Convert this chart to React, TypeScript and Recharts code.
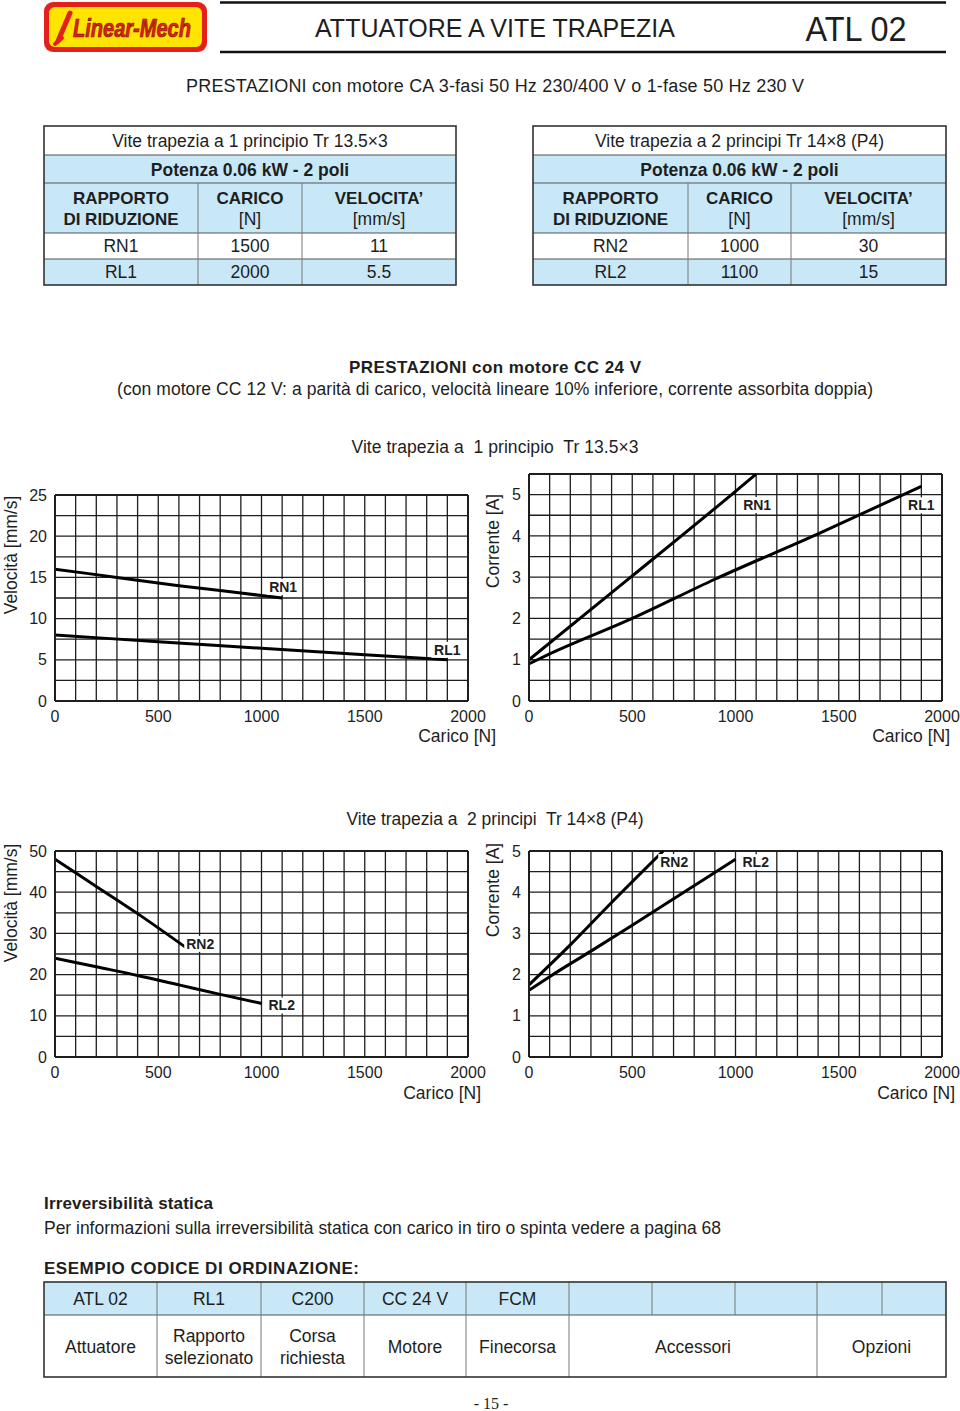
import React from 'react';
import { LineChart, Line, XAxis, YAxis, CartesianGrid, LabelList, ReferenceLine } from 'recharts';

const FONT = '"Liberation Sans", Arial, Helvetica, sans-serif';
const BLUE = '#c8e8f8';
const INK = '#1e1e1e';

// --- tabelle motore CA ---
const table1Title = 'Vite trapezia a 1 principio Tr 13.5×3';
const table2Title = 'Vite trapezia a 2 principi Tr 14×8 (P4)';
const powerLabel = 'Potenza 0.06 kW - 2 poli';
const ratios1 = ['RN1', 'RL1'];
const loads1 = ['1500', '2000'];
const speeds1 = ['11', '5.5'];
const ratios2 = ['RN2', 'RL2'];
const loads2 = ['1000', '1100'];
const speeds2 = ['30', '15'];

// --- griglie e tick ---
const loadGrid = [0, 100, 200, 300, 400, 500, 600, 700, 800, 900, 1000, 1100, 1200, 1300, 1400, 1500, 1600, 1700, 1800, 1900, 2000];
const loadLabels = [0, 500, 1000, 1500, 2000];
const speedGrid1 = [0, 2.5, 5, 7.5, 10, 12.5, 15, 17.5, 20, 22.5, 25];
const speedLabels1 = [0, 5, 10, 15, 20, 25];
const speedGrid2 = [0, 5, 10, 15, 20, 25, 30, 35, 40, 45, 50];
const speedLabels2 = [0, 10, 20, 30, 40, 50];
const currentGrid1 = [0, 0.5, 1, 1.5, 2, 2.5, 3, 3.5, 4, 4.5, 5, 5.5];
const currentGrid2 = [0, 0.5, 1, 1.5, 2, 2.5, 3, 3.5, 4, 4.5, 5];
const currentLabels = [0, 1, 2, 3, 4, 5];

// --- curve motore CC 24 V, vite 1 principio ---
const rn1Load = [0, 300, 600, 900, 1100];
const rn1Speed = [16, 15.0, 14.0, 13.1, 12.5];
const rl1Load = [0, 500, 1000, 1500, 1900];
const rl1Speed = [8, 7.2, 6.4, 5.6, 5.0];
const rn1CurLoad = [0, 500, 1000, 1100];
const rn1Current = [1.0, 3.03, 5.08, 5.5];
const rl1CurLoad = [0, 100, 500, 900, 1400, 1900];
const rl1Current = [0.9, 1.14, 2.0, 2.95, 4.05, 5.2];

// --- curve motore CC 24 V, vite 2 principi ---
const rn2Load = [0, 200, 400, 650];
const rn2Speed = [48, 41.4, 34.8, 26];
const rl2Load = [0, 200, 400, 600, 800, 1000];
const rl2Speed = [24, 21.9, 19.8, 17.5, 15.2, 13];
const rn2CurLoad = [0, 200, 400, 650];
const rn2Current = [1.75, 2.72, 3.75, 5.0];
const rl2CurLoad = [0, 100, 300, 500, 750, 1000];
const rl2Current = [1.62, 1.95, 2.57, 3.2, 4.0, 4.8];

// --- codice di ordinazione ---
const codeCols = [44, 157, 261, 364, 466, 569, 652, 735, 817, 882, 946];
const codeValues = ['ATL 02', 'RL1', 'C200', 'CC 24 V', 'FCM', '', '', '', '', ''];
const codeGroups = [
  { from: 0, to: 1, text: ['Attuatore'] },
  { from: 1, to: 2, text: ['Rapporto', 'selezionato'] },
  { from: 2, to: 3, text: ['Corsa', 'richiesta'] },
  { from: 3, to: 4, text: ['Motore'] },
  { from: 4, to: 5, text: ['Finecorsa'] },
  { from: 5, to: 8, text: ['Accessori'] },
  { from: 8, to: 10, text: ['Opzioni'] },
];

interface Series {
  name: string;
  load: number[];
  values: number[];
  dx: number;
  dy: number;
  anchor: 'start' | 'middle' | 'end';
}

const toPoints = (xs: number[], ys: number[]) => xs.map((x, i) => ({ x, y: ys[i] }));

const endLabel = (s: Series, last: number) => (props: any) => {
  if (props.index !== last) return null;
  const px = props.x ?? props.viewBox?.x;
  const py = props.y ?? props.viewBox?.y;
  if (px == null || py == null) return null;
  const w = 30;
  const cx = px + s.dx;
  const left = s.anchor === 'start' ? cx - 2 : s.anchor === 'middle' ? cx - w / 2 - 1 : cx - w - 1;
  return (
    <g>
      <rect x={left} y={py + s.dy - 8} width={w + 3} height={16} fill="#fff" />
      <text
        x={cx}
        y={py + s.dy}
        textAnchor={s.anchor}
        dominantBaseline="central"
        fontFamily={FONT}
        fontWeight="bold"
        fontSize={14}
        fill={INK}
      >
        {s.name}
      </text>
    </g>
  );
};

interface ChartProps {
  left: number;
  top: number;
  width: number;
  height: number;
  marginTop: number;
  marginRight: number;
  yWidth: number;
  yGrid: number[];
  yLabels: number[];
  series: Series[];
}

const PerfChart: React.FC<ChartProps> = ({ left, top, width, height, marginTop, marginRight, yWidth, yGrid, yLabels, series }) => {
  const yMax = yGrid[yGrid.length - 1];
  const xMax = loadGrid[loadGrid.length - 1];
  const tickStyle = { fontSize: 16, fontFamily: FONT, fill: INK };
  return (
    <div style={{ position: 'absolute', left, top, width, height }}>
      <LineChart width={width} height={height} margin={{ top: marginTop, right: marginRight, bottom: 0, left: 8 }}>
        <CartesianGrid stroke={INK} strokeWidth={1.3} />
        <XAxis
          type="number"
          dataKey="x"
          domain={[0, xMax]}
          ticks={loadGrid}
          interval={0}
          height={29}
          tickLine={false}
          tickMargin={4}
          axisLine={{ stroke: INK, strokeWidth: 2 }}
          tick={tickStyle}
          tickFormatter={(v: number) => (loadLabels.includes(v) ? String(v) : '')}
          allowDataOverflow
        />
        <YAxis
          type="number"
          domain={[0, yMax]}
          ticks={yGrid}
          interval={0}
          width={yWidth}
          tickLine={false}
          tickMargin={2}
          axisLine={{ stroke: INK, strokeWidth: 2 }}
          tick={tickStyle}
          tickFormatter={(v: number) => (yLabels.includes(v) ? String(v) : '')}
          allowDataOverflow
        />
        <ReferenceLine y={yMax} stroke={INK} strokeWidth={2} />
        <ReferenceLine x={xMax} stroke={INK} strokeWidth={2} />
        {series.map((s) => (
          <Line
            key={s.name}
            data={toPoints(s.load, s.values)}
            dataKey="y"
            type="monotone"
            stroke="#000"
            strokeWidth={3}
            dot={false}
            isAnimationActive={false}
          >
            <LabelList dataKey="y" content={endLabel(s, s.load.length - 1)} />
          </Line>
        ))}
      </LineChart>
    </div>
  );
};

interface TableProps {
  x: number;
  cols: number[];
  title: string;
  ratios: string[];
  loads: string[];
  speeds: string[];
}

const SpecTable: React.FC<TableProps> = ({ x, cols, title, ratios, loads, speeds }) => {
  const rows = [126, 155, 183, 233, 259, 285];
  const xs = [x, x + cols[0], x + cols[0] + cols[1], x + cols[0] + cols[1] + cols[2]];
  const w = xs[3] - x;
  const mid = (i: number) => (xs[i] + xs[i + 1]) / 2;
  return (
    <g fontFamily={FONT} fill={INK}>
      <rect x={x} y={rows[1]} width={w} height={rows[3] - rows[1]} fill={BLUE} />
      <rect x={x} y={rows[4]} width={w} height={rows[5] - rows[4]} fill={BLUE} />
      {[rows[1], rows[2], rows[3], rows[4]].map((y) => (
        <line key={y} x1={x} x2={xs[3]} y1={y} y2={y} stroke="#555" strokeWidth={1.2} />
      ))}
      {[xs[1], xs[2]].map((vx) => (
        <line key={vx} x1={vx} x2={vx} y1={rows[2]} y2={rows[5]} stroke="#777" strokeWidth={1} />
      ))}
      <rect x={x} y={rows[0]} width={w} height={rows[5] - rows[0]} fill="none" stroke="#333" strokeWidth={1.6} />
      <text x={x + w / 2} y={141} textAnchor="middle" dominantBaseline="central" fontSize={17.5}>{title}</text>
      <text x={x + w / 2} y={170} textAnchor="middle" dominantBaseline="central" fontSize={17.5} fontWeight="bold">{powerLabel}</text>
      <text x={mid(0)} y={198} textAnchor="middle" dominantBaseline="central" fontSize={17} fontWeight="bold">RAPPORTO</text>
      <text x={mid(0)} y={219} textAnchor="middle" dominantBaseline="central" fontSize={17} fontWeight="bold">DI RIDUZIONE</text>
      <text x={mid(1)} y={198} textAnchor="middle" dominantBaseline="central" fontSize={17} fontWeight="bold">CARICO</text>
      <text x={mid(1)} y={219} textAnchor="middle" dominantBaseline="central" fontSize={17.5}>[N]</text>
      <text x={mid(2)} y={198} textAnchor="middle" dominantBaseline="central" fontSize={17} fontWeight="bold">VELOCITA’</text>
      <text x={mid(2)} y={219} textAnchor="middle" dominantBaseline="central" fontSize={17.5}>[mm/s]</text>
      {ratios.map((r, i) => (
        <g key={r}>
          <text x={mid(0)} y={246 + i * 26} textAnchor="middle" dominantBaseline="central" fontSize={17.5}>{r}</text>
          <text x={mid(1)} y={246 + i * 26} textAnchor="middle" dominantBaseline="central" fontSize={17.5}>{loads[i]}</text>
          <text x={mid(2)} y={246 + i * 26} textAnchor="middle" dominantBaseline="central" fontSize={17.5}>{speeds[i]}</text>
        </g>
      ))}
    </g>
  );
};

const AxisTitles: React.FC<{ leftX: number; rightX: number; vTitle: string; vY: number; cTitle: string; cY: number; carY: number; carLeftEnd: number; carRightEnd: number }> = ({
  leftX, rightX, vTitle, vY, cTitle, cY, carY, carLeftEnd, carRightEnd,
}) => (
  <g fontFamily={FONT} fill={INK} fontSize={17.5}>
    <text transform={`translate(${leftX},${vY}) rotate(-90)`} textAnchor="middle" dominantBaseline="central">{vTitle}</text>
    <text transform={`translate(${rightX},${cY}) rotate(-90)`} textAnchor="middle" dominantBaseline="central">{cTitle}</text>
    <text x={carLeftEnd} y={carY} textAnchor="end" dominantBaseline="central">Carico [N]</text>
    <text x={carRightEnd} y={carY} textAnchor="end" dominantBaseline="central">Carico [N]</text>
  </g>
);

const Logo: React.FC = () => (
  <g>
    <rect x={44} y={2} width={163} height={50} rx={9} fill="#e3201b" />
    <rect x={49} y={7} width={153} height={40} rx={6} fill="#ffe400" />
    <path d="M58 41 L70 13" stroke="#e3201b" strokeWidth={5} strokeLinecap="round" />
    <path d="M55 44 L62 38" stroke="#e3201b" strokeWidth={4} strokeLinecap="round" />
    <text
      x={132}
      y={28}
      textAnchor="middle"
      dominantBaseline="central"
      fontFamily={FONT}
      fontStyle="italic"
      fontWeight="bold"
      fontSize={25}
      fill="#e3201b"
      stroke="#7a1010"
      strokeWidth={0.7}
      textLength={118}
      lengthAdjust="spacingAndGlyphs"
    >
      Linear-Mech
    </text>
  </g>
);

export default function App() {
  const series1Speed: Series[] = [
    { name: 'RN1', load: rn1Load, values: rn1Speed, dx: 1, dy: -11, anchor: 'middle' },
    { name: 'RL1', load: rl1Load, values: rl1Speed, dx: 0, dy: -10, anchor: 'middle' },
  ];
  const series1Current: Series[] = [
    { name: 'RN1', load: rn1CurLoad, values: rn1Current, dx: 1, dy: 31, anchor: 'middle' },
    { name: 'RL1', load: rl1CurLoad, values: rl1Current, dx: 0, dy: 19, anchor: 'middle' },
  ];
  const series2Speed: Series[] = [
    { name: 'RN2', load: rn2Load, values: rn2Speed, dx: 11, dy: -6, anchor: 'middle' },
    { name: 'RL2', load: rl2Load, values: rl2Speed, dx: 7, dy: 2, anchor: 'start' },
  ];
  const series2Current: Series[] = [
    { name: 'RN2', load: rn2CurLoad, values: rn2Current, dx: -3, dy: 11, anchor: 'start' },
    { name: 'RL2', load: rl2CurLoad, values: rl2Current, dx: 7, dy: 3, anchor: 'start' },
  ];

  return (
    <div style={{ position: 'absolute', left: 0, top: 0, width: 960, height: 1411, background: '#fff', overflow: 'hidden' }}>
      <svg width={960} height={1411} style={{ position: 'absolute', left: 0, top: 0 }}>
        <Logo />
        <line x1={220} x2={946} y1={2.5} y2={2.5} stroke="#111" strokeWidth={2.5} />
        <line x1={220} x2={946} y1={52} y2={52} stroke="#111" strokeWidth={2.5} />
        <g fontFamily={FONT} fill={INK}>
          <text x={495} y={28} textAnchor="middle" dominantBaseline="central" fontSize={26} textLength={360} lengthAdjust="spacingAndGlyphs">ATTUATORE A VITE TRAPEZIA</text>
          <text x={856} y={28} textAnchor="middle" dominantBaseline="central" fontSize={35} textLength={101} lengthAdjust="spacingAndGlyphs">ATL 02</text>
          <text x={495} y={86} textAnchor="middle" dominantBaseline="central" fontSize={18} textLength={618}>
            PRESTAZIONI con motore CA 3-fasi 50 Hz 230/400 V o 1-fase 50 Hz 230 V
          </text>
        </g>
        <SpecTable x={44} cols={[154, 104, 154]} title={table1Title} ratios={ratios1} loads={loads1} speeds={speeds1} />
        <SpecTable x={533} cols={[155, 103, 155]} title={table2Title} ratios={ratios2} loads={loads2} speeds={speeds2} />
        <g fontFamily={FONT} fill={INK}>
          <text x={495} y={367} textAnchor="middle" dominantBaseline="central" fontSize={17} fontWeight="bold" textLength={292}>
            PRESTAZIONI con motore CC 24 V
          </text>
          <text x={495} y={389} textAnchor="middle" dominantBaseline="central" fontSize={17.5} textLength={756}>
            (con motore CC 12 V:  a parità di carico, velocità lineare 10% inferiore, corrente assorbita doppia)
          </text>
          <text x={495} y={447} textAnchor="middle" dominantBaseline="central" fontSize={17.5} textLength={287} style={{ whiteSpace: 'pre' }}>
            {'Vite trapezia a  1 principio  Tr 13.5×3'}
          </text>
          <text x={495} y={819} textAnchor="middle" dominantBaseline="central" fontSize={17.5} textLength={297} style={{ whiteSpace: 'pre' }}>
            {'Vite trapezia a  2 principi  Tr 14×8 (P4)'}
          </text>
        </g>
        <AxisTitles leftX={11} rightX={493} vTitle="Velocità [mm/s]" vY={555} cTitle="Corrente [A]" cY={541} carY={736} carLeftEnd={496} carRightEnd={950} />
        <AxisTitles leftX={11} rightX={493} vTitle="Velocità [mm/s]" vY={903} cTitle="Corrente [A]" cY={890} carY={1093} carLeftEnd={481} carRightEnd={955} />

        <g fontFamily={FONT} fill={INK}>
          <text x={44} y={1203} dominantBaseline="central" fontSize={17} fontWeight="bold" textLength={169}>Irreversibilità statica</text>
          <text x={44} y={1228} dominantBaseline="central" fontSize={17.5} textLength={677}>
            Per informazioni sulla irreversibilità statica con carico in tiro o spinta vedere a pagina 68
          </text>
          <text x={44} y={1268} dominantBaseline="central" fontSize={17} fontWeight="bold" textLength={315}>ESEMPIO CODICE DI ORDINAZIONE:</text>
        </g>
        <g fontFamily={FONT} fill={INK}>
          <rect x={44} y={1282} width={902} height={33} fill={BLUE} />
          <line x1={44} x2={946} y1={1315} y2={1315} stroke="#555" strokeWidth={1.2} />
          {codeCols.slice(1, -1).map((cx) => (
            <line key={cx} x1={cx} x2={cx} y1={1282} y2={1315} stroke="#777" strokeWidth={1} />
          ))}
          {codeGroups.slice(1).map((g) => (
            <line key={g.from} x1={codeCols[g.from]} x2={codeCols[g.from]} y1={1315} y2={1377} stroke="#777" strokeWidth={1} />
          ))}
          <rect x={44} y={1282} width={902} height={95} fill="none" stroke="#333" strokeWidth={1.6} />
          {codeValues.map((v, i) => (
            <text key={i} x={(codeCols[i] + codeCols[i + 1]) / 2} y={1299} textAnchor="middle" dominantBaseline="central" fontSize={17.5}>{v}</text>
          ))}
          {codeGroups.map((g) => {
            const cx = (codeCols[g.from] + codeCols[g.to]) / 2;
            return g.text.length === 1 ? (
              <text key={g.from} x={cx} y={1347} textAnchor="middle" dominantBaseline="central" fontSize={17.5}>{g.text[0]}</text>
            ) : (
              <g key={g.from}>
                <text x={cx} y={1336} textAnchor="middle" dominantBaseline="central" fontSize={17.5}>{g.text[0]}</text>
                <text x={cx} y={1358} textAnchor="middle" dominantBaseline="central" fontSize={17.5}>{g.text[1]}</text>
              </g>
            );
          })}
        </g>
        <text x={491} y={1403} textAnchor="middle" dominantBaseline="central" fontFamily='"Liberation Serif", "DejaVu Serif", serif' fontSize={16} fill={INK}>- 15 -</text>
      </svg>

      <PerfChart left={0} top={480} width={500} height={250} marginTop={15} marginRight={32} yWidth={47} yGrid={speedGrid1} yLabels={speedLabels1} series={series1Speed} />
      <PerfChart left={480} top={460} width={480} height={270} marginTop={14} marginRight={18} yWidth={41} yGrid={currentGrid1} yLabels={currentLabels} series={series1Current} />
      <PerfChart left={0} top={836} width={500} height={250} marginTop={15} marginRight={32} yWidth={47} yGrid={speedGrid2} yLabels={speedLabels2} series={series2Speed} />
      <PerfChart left={480} top={836} width={480} height={250} marginTop={15} marginRight={18} yWidth={41} yGrid={currentGrid2} yLabels={currentLabels} series={series2Current} />
    </div>
  );
}
